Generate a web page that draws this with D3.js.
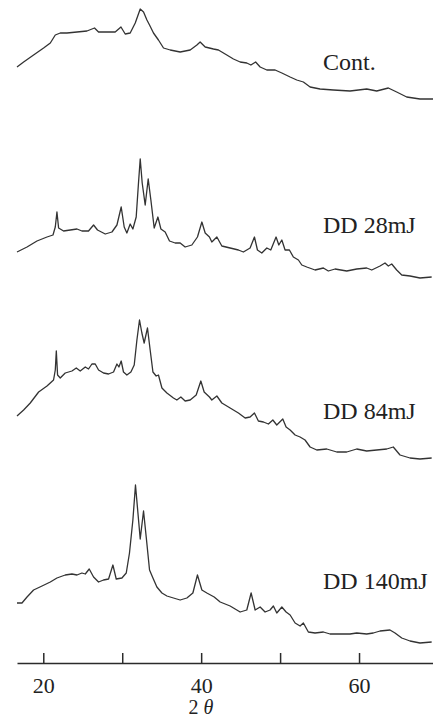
<!DOCTYPE html>
<html>
<head>
<meta charset="utf-8">
<script src="https://cdn.jsdelivr.net/npm/d3@7"></script>
<style>
    html, body { margin: 0; padding: 0; background: #fff; }
    #chart-xrd { width: 433px; height: 719px; }
</style>
</head>
<body>
<div id="chart-xrd"></div>
<script>
/* 2theta (deg), intensity (arbitrary units) */
var CONT = [
    [16.67,43],[17.51,48],[18.77,55],[20.04,62],[20.89,67],[21.52,75],[22.15,77],[23.0,77],
    [24.27,78],[25.53,79],[26.49,82],[27.0,78],[28.06,78],[29.11,78],[29.84,83],[30.38,76],
    [31.01,77],[31.65,87],[32.28,101],[32.70,98],[33.13,90],[33.46,85],[33.96,77],[34.59,70],
    [35.23,62],[36.08,60],[37.34,58],[38.61,60],[39.46,65],[39.87,68],[40.51,63],[41.56,61],
    [42.19,60],[43.25,55],[44.09,51],[44.94,48],[45.78,47],[46.3,45],[46.9,48],[47.47,43],
    [48.32,40],[49.37,40],[50.22,37],[51.27,33],[52.11,30],[52.95,28],[53.80,23],[55.06,21],
    [56.75,20],[58.86,19],[60.97,21],[62.24,19],[63.71,22],[64.77,18],[66.04,13],[67.72,11],
    [69.37,11]
];

var DD28 = [
    [16.67,33],[17.94,38],[19.20,44],[20.47,48],[21.23,50],[21.52,58],[21.73,73],[21.94,57],
    [22.57,54],[23.42,55],[24.27,56],[24.90,54],[25.73,54],[26.37,60],[26.87,55],[27.85,51],
    [28.70,53],[29.33,60],[29.87,78],[30.25,58],[30.59,52],[31.01,61],[31.35,56],[31.77,68],
    [32.06,102],[32.28,126],[32.53,102],[32.91,80],[33.29,106],[33.63,85],[34.05,57],[34.52,68],
    [34.90,56],[35.44,53],[35.99,44],[36.71,42],[37.34,42],[37.97,38],[38.82,40],[39.53,48],
    [40.09,63],[40.51,52],[41.05,48],[41.35,43],[41.99,48],[42.62,39],[43.67,37],[44.72,35],
    [45.35,33],[46.20,37],[46.75,48],[47.13,35],[47.68,32],[48.32,37],[48.82,35],[49.49,48],
    [49.84,40],[50.22,45],[50.63,35],[51.18,35],[51.68,28],[52.32,25],[52.75,20],[53.38,18],
    [54.43,15],[55.48,17],[56.11,14],[56.96,16],[58.44,14],[59.71,16],[60.97,17],[61.61,15],
    [62.66,19],[63.29,22],[63.71,19],[64.14,21],[64.77,15],[65.41,10],[66.46,9],[67.72,7],
    [69.20,8]
];

var DD84 = [
    [16.67,49],[17.51,55],[18.35,62],[19.41,73],[20.47,79],[21.30,85],[21.52,95],[21.65,114],
    [21.81,90],[22.15,87],[22.78,92],[23.63,94],[24.18,97],[24.68,94],[25.32,98],[25.73,96],
    [26.16,101],[26.58,101],[27.0,95],[27.63,92],[28.27,91],[28.90,93],[29.33,101],[29.58,98],
    [29.87,104],[30.16,93],[30.59,90],[31.10,93],[31.52,100],[31.86,125],[32.19,145],[32.49,132],
    [32.78,122],[33.20,137],[33.54,115],[33.89,93],[34.30,89],[34.59,90],[35.03,77],[35.66,72],
    [36.49,67],[36.92,65],[37.43,68],[37.97,64],[38.61,65],[39.37,70],[39.96,84],[40.38,73],
    [41.05,68],[41.35,65],[41.99,69],[42.62,62],[43.67,57],[44.72,52],[45.57,47],[46.20,48],
    [46.75,52],[47.25,44],[47.89,43],[48.52,41],[49.08,45],[49.58,40],[50.34,46],[50.76,38],
    [51.27,35],[51.90,30],[52.53,28],[53.16,25],[53.80,18],[54.65,15],[55.91,16],[57.18,13],
    [58.44,13],[59.71,16],[60.97,14],[62.24,15],[63.51,16],[64.34,18],[65.19,10],[66.46,7],
    [67.72,6],[69.20,7]
];

var DD140 = [
    [16.67,47],[17.30,47],[17.94,53],[18.77,60],[19.84,64],[20.89,68],[21.73,72],[22.78,75],
    [23.63,76],[24.27,75],[24.90,77],[25.32,76],[25.82,81],[26.37,73],[27.0,68],[27.63,70],
    [28.27,71],[28.82,85],[29.24,71],[29.96,72],[30.51,77],[30.92,97],[31.35,130],[31.68,165],
    [31.99,137],[32.28,111],[32.70,139],[33.04,113],[33.46,80],[33.89,72],[34.39,63],[35.03,57],
    [35.66,54],[36.49,52],[37.34,50],[38.19,52],[38.95,57],[39.53,75],[40.09,60],[40.72,57],
    [41.65,53],[42.41,48],[43.67,44],[44.94,38],[45.78,40],[46.33,57],[46.84,40],[47.47,43],
    [48.10,38],[48.73,40],[49.15,44],[49.58,37],[50.22,43],[50.76,38],[51.27,35],[51.90,27],
    [52.53,24],[52.95,27],[53.58,18],[54.43,17],[55.48,18],[56.33,16],[57.59,16],[58.86,16],
    [59.71,17],[60.97,16],[61.81,17],[62.66,19],[63.92,20],[64.56,17],[65.41,12],[66.46,9],
    [67.72,7],[69.20,8]
];

var LABELS     = ["Cont.", "DD 28mJ", "DD 84mJ", "DD 140mJ"];
var TICKS      = [20, 30, 40, 50, 60];
var TICK_TEXT  = [20, 40, 60];
var X_DOMAIN   = [16.67, 69.37];

(function () {

    var W = 433, H = 719;
    var SERIES   = [CONT, DD28, DD84, DD140];
    var BASELINE = [110, 285, 465, 650];   // pixel row of zero intensity for each pattern
    var LABEL_Y  = [70, 233, 419, 589];
    var AXIS_Y   = 663;
    var SERIF    = "'Liberation Serif', 'DejaVu Serif', serif";

    var svg = d3.select("#chart-xrd")
        .append("svg")
        .attr("width",  W)
        .attr("height", H);

    var x = d3.scaleLinear().domain(X_DOMAIN).range([17, W]);
    var y = d3.scaleLinear().domain([0, 100]).range([0, -100]);

    var line = d3.line()
        .x(function (d) { return x(d[0]); })
        .y(function (d) { return y(d[1]); });

    /* ── patterns ─────────────────────────────────────────────── */
    SERIES.forEach(function (data, i) {
        var g = svg.append("g")
            .attr("transform", "translate(0," + BASELINE[i] + ")");
        g.append("path")
            .datum(data)
            .attr("d", line)
            .attr("fill", "none")
            .attr("stroke", "#333")
            .attr("stroke-width", 1.3)
            .attr("stroke-linejoin", "round");

        svg.append("text")
            .attr("x", 323).attr("y", LABEL_Y[i])
            .style("font-family", SERIF)
            .style("font-size", "24px")
            .attr("fill", "#222")
            .text(LABELS[i]);
    });

    /* ── x axis ───────────────────────────────────────────────── */
    var axis = svg.append("g")
        .attr("class", "axis axis-x")
        .attr("transform", "translate(0," + AXIS_Y + ")")
        .call(
            d3.axisBottom(x)
                .tickValues(TICKS)
                .tickSizeInner(-10)
                .tickSizeOuter(0)
                .tickPadding(14)
                .tickFormat(function (v) { return TICK_TEXT.indexOf(v) >= 0 ? v : ""; })
        );

    axis.select(".domain")
        .attr("stroke", "#2b2b2b")
        .attr("stroke-width", 1.6);
    axis.selectAll(".tick line")
        .attr("stroke", "#2b2b2b")
        .attr("stroke-width", 1.5);
    axis.selectAll(".tick text")
        .style("font-family", SERIF)
        .style("font-size", "22px")
        .attr("fill", "#222");

    // axis title "2θ"
    var title = svg.append("text")
        .attr("x", 201).attr("y", 714)
        .attr("text-anchor", "middle")
        .style("font-family", SERIF)
        .style("font-size", "20px")
        .attr("fill", "#222");
    title.append("tspan").text("2 ");
    title.append("tspan").style("font-style", "italic").text("θ");

}());
</script>
</body>
</html>
